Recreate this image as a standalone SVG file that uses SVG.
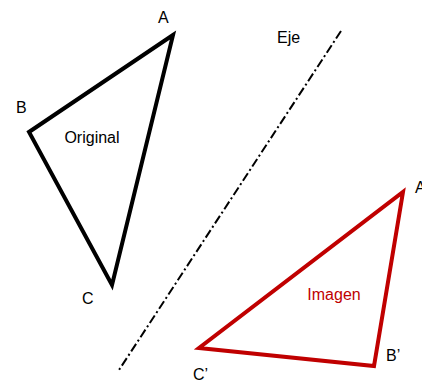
<svg xmlns="http://www.w3.org/2000/svg" width="422" height="380" viewBox="0 0 422 380">
<style>
.lbl{font-family:"Liberation Sans",Arial,sans-serif;font-size:16px;fill:#000}
.red{fill:#C00000}
.tri{fill:none;stroke-width:4;stroke-linejoin:miter}
</style>
<rect width="422" height="380" fill="#fff"/>
<g id="connectors">
<line id="eje" x1="341" y1="31" x2="119" y2="370" stroke="#000" stroke-width="2" stroke-dasharray="9,3,2,3"/>
</g>
<g id="original">
<polygon class="tri" stroke="#000" points="173,35 29,132 112,285"/>
<text class="lbl" x="92" y="143" text-anchor="middle">Original</text>
</g>
<g id="imagen">
<polygon class="tri" stroke="#C00000" points="403,192 374,366 199,348"/>
<text class="lbl red" x="334" y="300" text-anchor="middle">Imagen</text>
</g>
<g id="labels">
<text class="lbl" x="158" y="23">A</text>
<text class="lbl" x="16" y="113">B</text>
<text class="lbl" x="82" y="304">C</text>
<text class="lbl" x="277" y="43">Eje</text>
<text class="lbl" x="415" y="193">A’</text>
<text class="lbl" x="386" y="361">B’</text>
<text class="lbl" x="193" y="380">C’</text>
</g>
</svg>
